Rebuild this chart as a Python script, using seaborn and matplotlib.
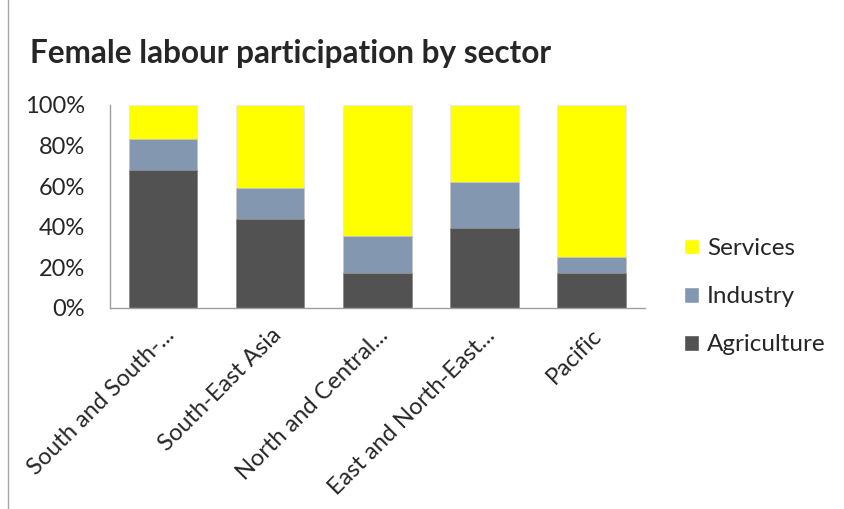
import pandas as pd
import numpy as np
import matplotlib
matplotlib.use("Agg")
import matplotlib.pyplot as plt
import seaborn as sns
from matplotlib.patches import Patch

# data (shares in %)
regions = ["South and South-...", "South-East Asia", "North and Central...",
           "East and North-East...", "Pacific"]
agriculture = [68.1, 44.0, 17.2, 39.3, 17.0]
industry = [15.1, 15.2, 18.0, 22.9, 8.3]
services = [16.8, 40.8, 64.8, 37.8, 74.7]

sns.set_style("white")
plt.rcParams['font.family'] = ['Lato', 'DejaVu Sans']

df = pd.DataFrame({"region": regions, "Agriculture": agriculture,
                   "Industry": industry, "Services": services})
df["top_ind"] = df["Agriculture"] + df["Industry"]
df["top_srv"] = df["top_ind"] + df["Services"]

col_agri = "#525252"
col_ind = "#8497B0"
col_srv = "#FFFF00"

fig = plt.figure(figsize=(8.44, 5.09), dpi=100)
ax = fig.add_axes([0.130, 0.395, 0.634, 0.399])

# stacked look: draw cumulative totals, largest first
sns.barplot(data=df, x="region", y="top_srv", color=col_srv, width=0.64,
            edgecolor="#e8e8e8", linewidth=0.6, saturation=1, ax=ax)
sns.barplot(data=df, x="region", y="top_ind", color=col_ind, width=0.64,
            edgecolor="#c8c8c8", linewidth=0.6, saturation=1, ax=ax)
sns.barplot(data=df, x="region", y="Agriculture", color=col_agri, width=0.64,
            edgecolor="#909090", linewidth=0.6, saturation=1, ax=ax)

ax.set_ylim(0, 100)
ax.set_yticks(np.arange(0, 101, 20))
ax.set_yticklabels([f"{v}%" for v in range(0, 101, 20)], fontsize=17)
ax.set_xlabel("")
ax.set_ylabel("")
ax.tick_params(axis="y", length=0, pad=18)
ax.tick_params(axis="x", length=0, pad=12)
plt.setp(ax.get_xticklabels(), rotation=45, ha="right", rotation_mode="anchor",
         fontsize=17)
for s in ["top", "right"]:
    ax.spines[s].set_visible(False)
for s in ["left", "bottom"]:
    ax.spines[s].set_color("#a0a0a0")
    ax.spines[s].set_linewidth(1)

fig.text(0.036, 0.894, "Female labour participation by sector", fontsize=22.7,
         fontweight="bold", ha="left", va="center")

handles = [Patch(facecolor=col_srv, label="Services"),
           Patch(facecolor=col_ind, label="Industry"),
           Patch(facecolor=col_agri, label="Agriculture")]
fig.legend(handles=handles, loc="center left", bbox_to_anchor=(0.784, 0.417),
           frameon=False, fontsize=17.5, handlelength=0.62, handleheight=0.62,
           handletextpad=0.35, labelspacing=1.12)

# left edge of the chart frame
fig.add_artist(plt.Line2D([0.009, 0.009], [0.0, 1.0], color="#a6a6a6",
                          linewidth=1, transform=fig.transFigure))

fig.savefig("out.png", dpi=100)
